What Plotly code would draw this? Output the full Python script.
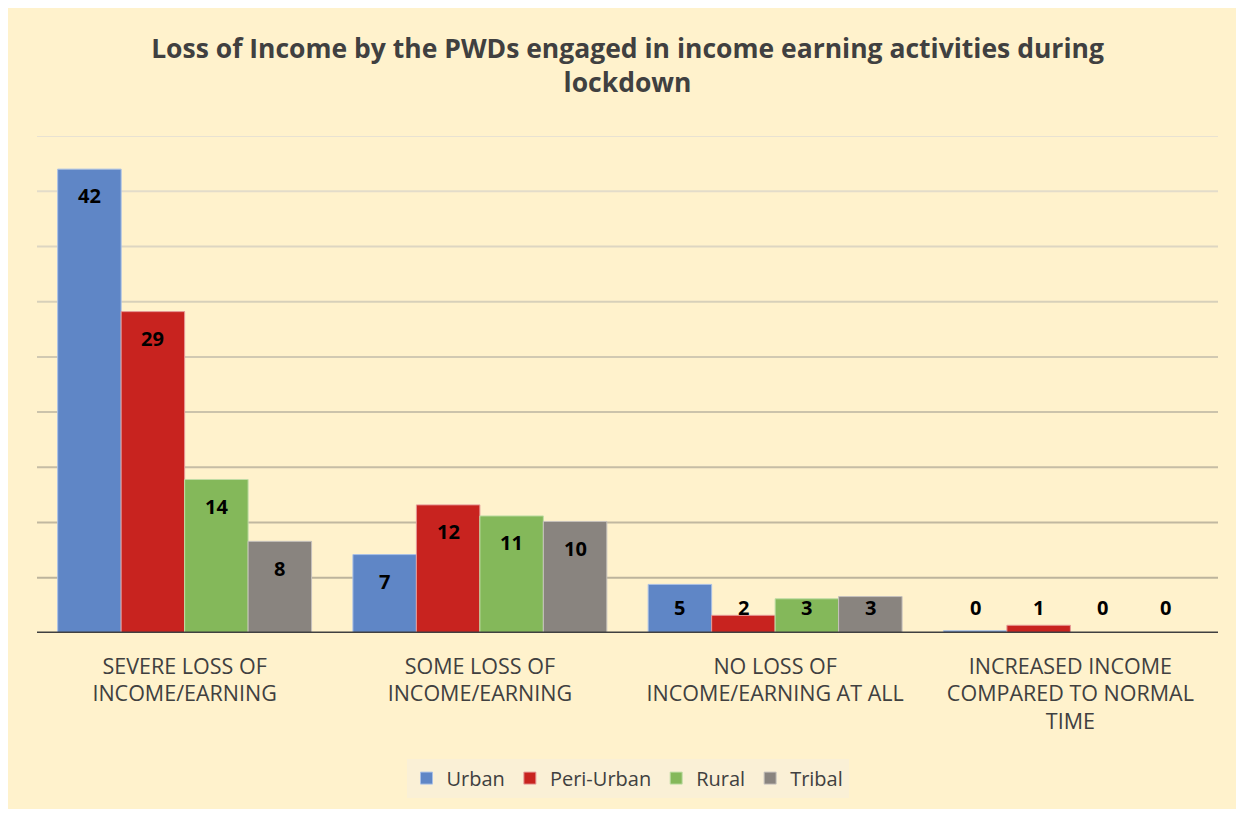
import plotly.graph_objects as go

categories = ["SEVERE LOSS OF<br>INCOME/EARNING", "SOME LOSS OF<br>INCOME/EARNING",
              "NO LOSS OF<br>INCOME/EARNING AT ALL", "INCREASED INCOME<br>COMPARED TO NORMAL<br>TIME"]
series_names = ["Urban", "Peri-Urban", "Rural", "Tribal"]
urban = [42.0, 7.1, 4.4, 0.2]
peri_urban = [29.1, 11.6, 1.6, 0.7]
rural = [13.9, 10.6, 3.1, 0.0]
tribal = [8.3, 10.1, 3.3, 0.0]
urban_labels = [42, 7, 5, 0]
peri_urban_labels = [29, 12, 2, 1]
rural_labels = [14, 11, 3, 0]
tribal_labels = [8, 10, 3, 0]

values = [urban, peri_urban, rural, tribal]
labels = [urban_labels, peri_urban_labels, rural_labels, tribal_labels]
colors = ["#5F86C6", "#C8231F", "#84B85A", "#89847F"]
edge = ["#A9C0E6", "#E59A98", "#C0DDA6", "#C6C2BD"]

FONT = "Open Sans"
BG = "#FFF2CC"
bargap = 0.14
n = len(series_names)
w = (1 - bargap) / n
xs = list(range(len(categories)))

fig = go.Figure()
for j, name in enumerate(series_names):
    fig.add_trace(go.Bar(
        x=xs, y=values[j], name=name,
        marker=dict(color=colors[j], line=dict(color=edge[j], width=1)),
    ))

annotations = []
for j in range(n):
    for i, v in enumerate(values[j]):
        annotations.append(dict(
            x=i + (j - (n - 1) / 2) * w, y=max(v - 2.43, 2.3), xref="x", yref="y",
            text=f"<b>{labels[j][i]}</b>", showarrow=False,
            font=dict(family=FONT, size=20, color="#000000"),
            xanchor="center", yanchor="middle"))

# gridlines with gradient colors (light at top, darker near baseline)
grid_colors = ["#BDB49C", "#C1B8A0", "#C6BDA5", "#CBC3AB", "#D1C9B2", "#D7D0BA",
               "#DDD6C2", "#E3DCCA", "#E8E2D2"]
shapes = []
for k, gc in enumerate(grid_colors):
    yv = 5 * (k + 1)
    shapes.append(dict(type="line", xref="paper", yref="y", x0=0, x1=1, y0=yv, y1=yv,
                       line=dict(color=gc, width=2), layer="below"))
shapes.append(dict(type="line", xref="paper", yref="y", x0=0, x1=1, y0=0, y1=0,
                   line=dict(color="#404040", width=3), layer="above"))

W, H = 1228, 801
ml, mt = 29, 128
pw, ph = 1181, 501
mr = W - ml - pw
mb = H - mt - ph

fig.update_layout(
    width=W, height=H,
    margin=dict(l=ml, r=mr, t=mt, b=mb),
    paper_bgcolor=BG, plot_bgcolor=BG,
    barmode="group", bargap=bargap, bargroupgap=0,
    title=dict(text="<b>Loss of Income by the PWDs engaged in income earning activities during<br>lockdown</b>",
               x=0.5, xanchor="center", xref="paper", y=1 - 50 / H, yanchor="middle",
               font=dict(family=FONT, size=26.5, color="#404040")),
    xaxis=dict(tickmode="array", tickvals=xs, ticktext=categories, range=[-0.5, 3.5],
               showgrid=False, zeroline=False, showline=False, ticks="",
               ticklabelstandoff=18,
               tickfont=dict(family=FONT, size=21.5, color="#404040")),
    yaxis=dict(range=[0, 45], showgrid=False, zeroline=False, showticklabels=False,
               showline=False, ticks=""),
    legend=dict(orientation="h", x=0.5, xanchor="center", y=-0.292, yanchor="middle",
                bgcolor="#FAF0D6", font=dict(family=FONT, size=20, color="#404040"),
                itemwidth=30, traceorder="normal"),
    annotations=annotations, shapes=shapes,
    showlegend=True,
)

fig.write_html("out.html")
